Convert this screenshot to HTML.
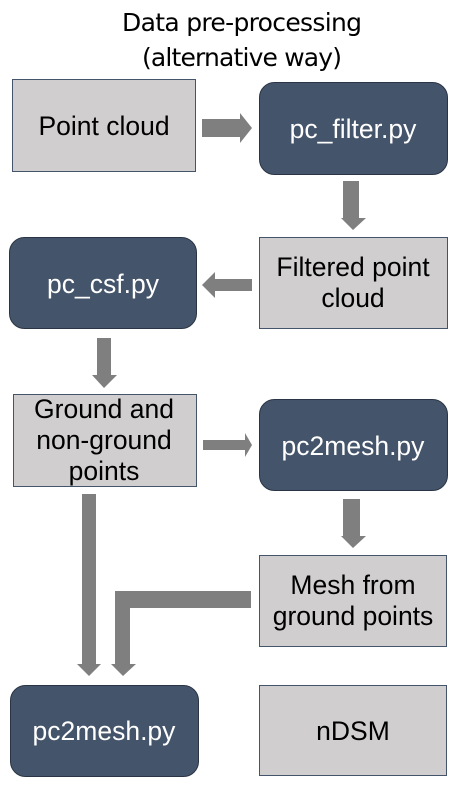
<!DOCTYPE html>
<html><head><style>html,body{margin:0;padding:0;background:#fff}</style></head>
<body>
<svg width="453" height="782" xmlns="http://www.w3.org/2000/svg" font-family="Liberation Sans, Arial, sans-serif">
<rect width="453" height="782" fill="#fff"/>
<text x="242" y="31" font-size="25" text-anchor="middle" font-family="DejaVu Sans, sans-serif" textLength="240">Data pre-processing</text>
<text x="242" y="66" font-size="25" text-anchor="middle" font-family="DejaVu Sans, sans-serif" textLength="200">(alternative way)</text>
<g fill="#d0cece" stroke="#44546a" stroke-width="1">
<rect x="12.5" y="79.5" width="183" height="92"/>
<rect x="259.5" y="237.5" width="188" height="91"/>
<rect x="13.5" y="394.5" width="183" height="92"/>
<rect x="259.5" y="555.5" width="187" height="91"/>
<rect x="259.5" y="685.5" width="187" height="90"/>
</g>
<g fill="#44546a" stroke="#2a3444" stroke-width="1">
<rect x="259.5" y="82.5" width="188" height="92" rx="15"/>
<rect x="9.5" y="237.5" width="187" height="91" rx="15"/>
<rect x="259.5" y="399.5" width="188" height="91" rx="15"/>
<rect x="10.5" y="685.5" width="188" height="91" rx="15"/>
</g>
<g fill="#7f7f7f">
<polygon points="202,119 240,119 240,113 252,128 240,143 240,137 202,137"/>
<polygon points="343,181 359,181 359,218 366,218 353,230 341,218 343,218"/>
<polygon points="252,279 215,279 215,272 202,285 215,298 215,291 252,291"/>
<polygon points="97,338 111,338 111,375 117,375 104,388 92,375 97,375"/>
<polygon points="203,440 245,440 245,433 252,445 245,457 245,450 203,450"/>
<polygon points="343,499 360,499 360,536 366,536 353,548 341,536 343,536"/>
<polygon points="82,494 96,494 96,664 101,664 89,676 77,664 82,664"/>
<polygon points="251,591 115,591 115,664 111,664 123,676 136,664 130,664 130,608 251,608"/>
</g>
<g font-size="26.5" text-anchor="middle" fill="#000">
<text x="104" y="135">Point cloud</text>
<text x="353" y="276">Filtered point</text>
<text x="353" y="307">cloud</text>
<text x="104" y="418">Ground and</text>
<text x="104" y="449">non-ground</text>
<text x="104" y="480">points</text>
<text x="353" y="594">Mesh from</text>
<text x="353" y="625">ground points</text>
<text x="353" y="740">nDSM</text>
</g>
<g font-size="26.5" text-anchor="middle" fill="#fff">
<text x="353" y="138">pc_filter.py</text>
<text x="103" y="293">pc_csf.py</text>
<text x="353" y="455">pc2mesh.py</text>
<text x="104" y="740">pc2mesh.py</text>
</g>
</svg>
</body></html>
